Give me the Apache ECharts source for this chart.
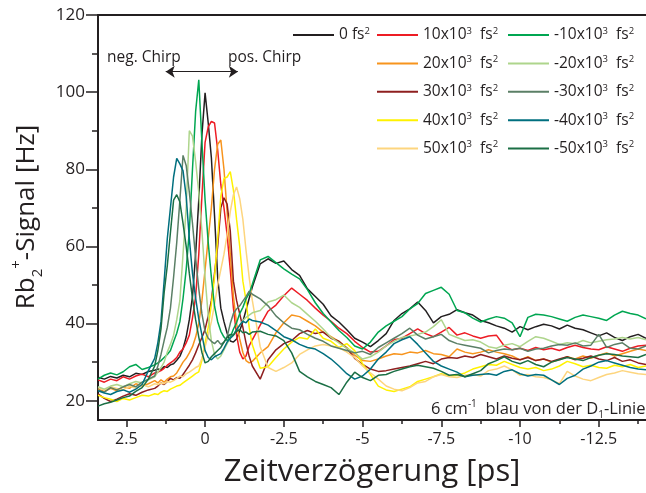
<!DOCTYPE html>
<html><head><meta charset="utf-8">
<script src="https://cdn.jsdelivr.net/npm/echarts@6/dist/echarts.min.js"></script>
<style>html,body{margin:0;padding:0;background:#fff}#c{width:646px;height:493px}</style>
</head><body><div id="c"></div>
<script>
// ---- data ----
const delays = [3.4,3.2,3.0,2.8,2.6,2.4,2.2,2.0,1.8,1.6,
 1.5,1.4,1.3,1.2,1.1,1.0,0.9,0.8,0.7,0.6,0.5,0.4,0.3,0.2,0.1,0,-0.1,-0.2,-0.3,-0.4,-0.5,-0.6,-0.7,-0.8,-0.9,-1.0,-1.1,-1.2,-1.3,-1.4,-1.5,
 -1.75,-2,-2.25,-2.5,-2.75,-3,-3.25,-3.5,-3.75,-4,-4.25,-4.5,-4.75,-5,-5.25,-5.5,-5.75,-6,-6.25,-6.5,-6.75,-7,-7.25,-7.5,-7.75,-8,-8.25,-8.5,-8.75,-9,-9.25,-9.5,-9.75,-10,-10.25,-10.5,-10.75,-11,-11.25,-11.5,-11.75,-12,-12.25,-12.5,-12.75,-13,-13.25,-13.5,-13.75,-14];

const chirp0 = [26.1,25.6,26.3,25.9,26.6,26.2,27.1,26.8,27.6,27.9,
 28.2,28.0,28.9,28.6,29.3,29.6,30.5,31.5,33.5,36.5,41,47,58,72,89,99.8,92,83,68,52,44,40.5,37.5,35.5,35.2,36,38.2,40.5,43.5,46.5,49.5,
 55.5,56.8,55.6,56.2,54,52.5,49,47,45,42,40.4,38.4,36.2,35.2,34,35.6,37.4,40.8,42.6,43.8,45.6,43.4,40.2,41.8,42.4,43.6,42.8,42.2,40.8,40.2,39.4,38.8,37.8,39.2,38.4,39.2,39.8,39.4,38.6,39.6,38.8,38.4,37.6,36.8,37.6,36.4,35.6,36.6,37.2,36.2];
const chirpP10 = [25.4,24.8,25.6,25.2,26.2,25.6,26.4,26.9,26.2,27.2,
 27.4,27.8,28.4,29.2,29.8,30.4,31.2,32.6,33.4,35,37,41.5,47,58,73,87,91,92.4,92,85,76,70,63,54,44,37,32.6,30.8,31.6,34.2,35.8,
 39.6,43.2,44.8,47.2,49.2,47.6,46,44,42.2,40.6,38.8,37.4,35.4,33.8,32.6,32.8,34.2,35.8,36.2,37.4,38.6,37.4,36.6,37.8,39,37,37.6,36.8,36.2,36.8,37,34.2,33.2,33.6,33,33.8,33.2,33.6,33,33.8,34.4,33.8,33.4,33.2,34,33.4,32.8,33.6,34.2,34.4];
const chirpP20 = [23,22.4,23.2,22.6,23.6,23.2,24.4,23.8,24.4,25.2,
 24.6,25.4,24.8,25.6,26.2,26.4,27.2,28.6,30,31,32.4,34,36.5,40,46,54,62,70,80,86.5,87.6,80,69,58,47,40,36,32.5,30.4,29.8,30.2,
 32.4,34,37.6,40.2,42.2,41.8,40.6,39.4,37.8,36.6,35.4,33.8,31.8,30.4,30.2,30.8,31.6,32.2,32,32.6,32.4,33,32.2,32,31.4,33.4,32.6,32.2,32.6,33.2,32.6,32.2,31.6,30.6,31.4,30.4,30.8,30,30.6,31.4,30.8,31.6,31,31.8,32.4,31.6,32.2,32.8,33.4,33];
const chirpP30 = [21.8,20.6,19.8,20.4,21.2,21.8,21.4,22.2,22.8,23.2,
 23.8,24.6,24.2,25,25.8,25.4,26,25.8,26.8,28,29.2,30.6,32.4,34.5,36.4,38.5,42,46,53,60,70,72.6,71,64,51,46,42.5,39,35,31.5,29,
 25.6,30.6,33.2,34.8,35.6,37.4,38.2,37.4,37.8,36.2,35.4,33.6,31,29.4,28.2,27.6,27.8,28.2,28.6,29,29.6,30.2,29.6,30.8,31.2,31,31.6,31.2,32,31.4,30.8,31.6,31,30.6,31.2,30.4,30.8,30.2,30.8,31.4,30.6,31,31.6,30.8,30.4,31.2,30.2,30.6,29.8,29.4];
const chirpP40 = [21.4,20.8,20.4,19.8,20.6,20.2,20.8,21.4,21.2,21.8,
 21.6,22.2,22.6,22.4,23,23.4,23.8,24,24.6,25.2,25.8,26.4,27,27.5,30.5,35,39,45,52,62,73,77.6,78,79.4,74.6,67,60,51,46,39,34.5,
 28.4,28.8,31.2,33.4,35.2,36.4,36,38.6,36.2,35.4,33.8,34.8,33,29.6,26.8,23.8,22.8,22.4,23,23.6,25,25.6,26.2,27,26.4,26.6,27.2,28.2,28.8,29.4,29.2,30.2,29.4,28.6,28.2,28.6,27.8,28.2,29,30.2,29.6,28.8,29.2,28.6,28.4,29.2,28.8,29.4,28.6,29];
const chirpP50 = [23.4,22.8,23.6,23.2,22.8,23.8,23.2,24.2,23.6,24.4,
 24.2,24.6,24.4,25,24.8,25.2,25.8,26.4,26.2,27,27.4,28,28.6,29,31,34,37,40.5,45,50,54,58,63,69,73.4,75.4,72.4,67,59,52,46,
 34,28.6,27.6,28.6,29.8,32,33.2,34.2,34.6,34.2,33.8,32.6,31.2,29,27.2,25.6,23.8,23,22.6,23.4,24.6,25,26.2,26.8,26.2,26,26.6,26.8,26.4,27.8,28.2,29,28,26.6,26.8,26.2,26,25.4,24.4,27.6,26.4,25.6,25.2,26,26.8,27.2,27.8,27.4,27,26.8];
const chirpM10 = [25.6,26.6,27.2,26.7,27.5,28.8,29.4,28.1,28.6,29.3,
 29.8,30.4,31.2,32,33,35.3,37.5,40.5,46.5,54,64,80,95,103.2,87,72,61,52,44.5,40.5,38,36.5,35.6,36.4,38.6,40.2,42.6,44.2,46.4,47.8,50.2,
 56.5,57.4,55.8,54.2,52.8,51.6,48.8,45.4,42.6,40.4,38.2,36.4,34.2,33.4,35.2,37.8,39.4,40.6,41.8,43.8,45.2,47.8,48.6,49.4,47.6,43.4,42.8,41.4,40.4,41.2,41.8,41.4,40.2,36.6,41.6,42.4,42.2,41.8,41.2,40.6,41.6,42.2,41.8,41.4,40.8,42.2,43.2,42.6,42.2,41.2];
const chirpM20 = [23.6,23,23.8,24.2,23.6,24.4,25,24.6,25.4,26.2,
 27.4,28.6,30,32.6,34.6,37,41,46,58,70,90,88.6,82,74,64,52,42,35.5,32,30.8,31.6,33.2,34.8,36.2,37,38.4,39.6,40.8,41.6,42.2,42.8,
 43.4,45.6,46.2,47.4,45.4,44.2,42.4,40.6,38.6,36.4,35,33.6,32.4,30.8,31.4,32.6,34.2,35.4,36.4,36.8,37.2,37.8,39.2,41,37.2,36.4,35.6,35.8,35.2,34,33.6,34.4,34.8,34,35.4,36.6,36.2,35.4,34.6,35,34.8,35.6,35,35.4,35.8,36,36.4,36,36.4,35.8];
const chirpM30 = [22.8,22.2,23.4,22.8,23.6,24.2,23.6,24.8,25.6,26.4,
 29,32,35.6,39,44,52,61,72,83.6,81,74,66,57,49,42.5,38,36.2,35.4,34.8,35.6,34.6,35.2,36.6,40,42.6,43.8,44.6,45.8,47,48.4,47.6,
 46.4,44.6,42,40.2,38.8,38.4,37.2,36.2,35.4,34.2,33.6,33,32.4,32.8,32,33.8,35,36.2,37.4,38.8,37,36,36.6,37.2,35.6,34.8,34.4,34,33.6,32.4,33,33.4,33.2,33.6,32.8,33.4,33.6,34.2,34.6,34.4,35,34.2,34.4,37.2,33.8,34.6,35,33.6,33.4,34.2];
const chirpM40 = [22.6,22,21.6,22.4,22.8,22.2,23,24.2,27.8,31,
 35,40.5,51,62,70,78,82.8,81.4,79.6,73,62,53,46.6,41.2,37,33,31.2,30.6,31.4,31.8,32.2,33.6,35.2,36.2,37,38.4,39.6,40.6,40.2,41.2,40.8,
 40.4,39.6,38.2,36.6,35.8,34.6,33.8,33.4,32.2,30.8,29,27,25.6,26.4,28.2,30.8,32.6,34.8,35.8,36.6,34.6,32.4,30.2,29,28.2,27.4,26.2,26.6,26.8,27,26.6,27.6,28,27,26.4,26.8,26.6,25.4,24.2,25.8,26.6,28.2,29,30,30.4,29.8,29.2,28.6,28.2,28];
const chirpM50 = [18.6,19.2,19.6,20.2,20.8,21.2,22.4,23.4,25.6,29,
 33,38.6,48,55,63.6,72,73.4,71.5,66,60,53,46.5,41,36.5,32.5,29.8,30.2,31.4,32.2,33,33.8,35.2,36.4,37.2,37,38,38.4,37.6,37.8,37.2,37.8,
 38,37.2,36.8,35.6,32.4,27.6,26.2,25,24.2,23.4,21.6,24.8,27.4,26,25.2,26.6,26.8,27.6,28.2,28.8,29.2,28.8,28.4,27.6,26.6,26.8,26.2,27,27.8,29.6,30.4,31.4,30.2,29.6,30.4,29.4,28.8,30,30.6,31.2,30.8,30.4,31.2,31.8,32.2,32,31.6,31.4,31.2,32];

const seriesNames = ['0','10','20','30','40','50','-10','-20','-30','-40','-50'];
const seriesValues = [chirp0,chirpP10,chirpP20,chirpP30,chirpP40,chirpP50,chirpM10,chirpM20,chirpM30,chirpM40,chirpM50];
const seriesColors = ['#231f20','#ed1c24','#f7941d','#8e1f1f','#fff200','#fdd57e','#00a651','#aed58c','#5b7f66','#006f7f','#1b6f45'];
const xMajorTicks = [2.5,0,-2.5,-5,-7.5,-10,-12.5];
const xMinorTicks = [1.25,-1.25,-3.75,-6.25,-8.75,-11.25,-13.75];
const yMajorTicks = [20,40,60,80,100,120];
const yMinorTicks = [30,50,70,90,110];
const chirpArrow = [1.25,-1.04,105.3];

// ---- chart ----
const FONT = '"Open Sans", sans-serif';
const INK = '#231f20';
const chart = echarts.init(document.getElementById('c'), null, {renderer:'canvas'});

function legendLabel(name){
  if (name === '0') return '{n|0 fs}{s|2}';
  return '{n|' + name + 'x10}{s|3}{n|  fs}{s|2}';
}
const legendText = {
  color: INK, fontFamily: FONT, fontSize: 15.5,
  rich: {
    n: {fontFamily: FONT, fontSize: 15.5, lineHeight: 18, color: INK},
    s: {fontFamily: FONT, fontSize: 9.5, lineHeight: 9, verticalAlign: 'top', color: INK}
  }
};
function mkLegend(data, left){
  return {data: data, left: left, top: 26, orient: 'vertical', padding: 0, itemGap: 11.4,
    icon: 'rect', itemWidth: 41, itemHeight: 2, selectedMode: false,
    formatter: legendLabel, textStyle: legendText};
}

const series = seriesNames.map((nm, i) => ({
  name: nm, type: 'line', symbol: 'none', showSymbol: false,
  data: delays.map((d, k) => [d, seriesValues[i][k]]),
  lineStyle: {width: 1.5, color: seriesColors[i]},
  itemStyle: {color: seriesColors[i]},
  z: 2
}));
series[0].markLine = {
  silent: true, symbol: ['arrow','arrow'], symbolSize: [9, 9], animation: false,
  label: {show: false},
  lineStyle: {color: INK, width: 1.2, type: 'solid'},
  data: [[{coord: [chirpArrow[0], chirpArrow[2]]}, {coord: [chirpArrow[1], chirpArrow[2]]}]]
};

const xBase = {type:'value', min:-14, max:3.4, inverse:true, splitLine:{show:false}};
const yBase = {type:'value', min:15, max:120, splitLine:{show:false}};

chart.setOption({
  animation: false,
  backgroundColor: '#fff',
  grid: {left: 98, right: 0, top: 15, bottom: 70.3, containLabel: false},
  legend: [mkLegend(['0'], 293), mkLegend(['10','20','30','40','50'], 377), mkLegend(['-10','-20','-30','-40','-50'], 508)],
  xAxis: [
    Object.assign({}, xBase, {
      position: 'bottom',
      axisLine: {show: true, onZero: false, lineStyle: {color: INK, width: 2}},
      axisTick: {show: true, length: 7, customValues: xMajorTicks, lineStyle: {color: INK, width: 1.5}},
      axisLabel: {customValues: xMajorTicks, margin: 11, color: INK, fontFamily: FONT, fontSize: 16},
      name: 'Zeitverzögerung [ps]', nameLocation: 'middle', nameGap: 37,
      nameTextStyle: {color: INK, fontFamily: FONT, fontSize: 31}
    }),
    Object.assign({}, xBase, {
      position: 'bottom',
      axisLine: {show: false, onZero: false},
      axisTick: {show: true, length: 4, customValues: xMinorTicks, lineStyle: {color: INK, width: 1.5}},
      axisLabel: {show: false}
    }),
    Object.assign({}, xBase, {
      position: 'top',
      axisLine: {show: true, onZero: false, lineStyle: {color: INK, width: 2}},
      axisTick: {show: false}, axisLabel: {show: false}
    })
  ],
  yAxis: [
    Object.assign({}, yBase, {
      position: 'left',
      axisLine: {show: true, onZero: false, lineStyle: {color: INK, width: 2}},
      axisTick: {show: true, length: 12, customValues: yMajorTicks, lineStyle: {color: INK, width: 1.5}},
      axisLabel: {customValues: yMajorTicks, margin: 13, color: INK, fontFamily: FONT, fontSize: 17},
      name: '{a|Rb}{sub|2}{sup|+}{a|-Signal [Hz]}', nameLocation: 'middle', nameGap: 46, nameRotate: 90,
      nameTextStyle: {color: INK, fontFamily: FONT, fontSize: 26, padding: [0, 0, 0, 1],
        rich: {
          a: {fontFamily: FONT, fontSize: 26, lineHeight: 36, color: INK},
          sub: {fontFamily: FONT, fontSize: 15, lineHeight: 15, verticalAlign: 'bottom', color: INK},
          sup: {fontFamily: FONT, fontSize: 15, lineHeight: 15, verticalAlign: 'top', color: INK}
        }}
    }),
    Object.assign({}, yBase, {
      position: 'left',
      axisLine: {show: false, onZero: false},
      axisTick: {show: true, length: 6, customValues: yMinorTicks, lineStyle: {color: INK, width: 1.5}},
      axisLabel: {show: false}
    })
  ],
  graphic: [
    {type: 'text', left: 107, top: 50, style: {text: 'neg. Chirp', fontFamily: FONT, fontSize: 15.5, fill: INK}},
    {type: 'text', left: 228, top: 50, style: {text: 'pos. Chirp', fontFamily: FONT, fontSize: 15.5, fill: INK}},
    {type: 'text', left: 431, top: 399, style: {
      text: '{m|6 cm}{sup|-1}{m|  blau von der D}{sub|1}{m|-Linie}',
      fontFamily: FONT, fontSize: 16.5, fill: INK,
      rich: {
        m: {fontFamily: FONT, fontSize: 16.5, lineHeight: 21, fill: INK},
        sup: {fontFamily: FONT, fontSize: 10, lineHeight: 10, verticalAlign: 'top', fill: INK},
        sub: {fontFamily: FONT, fontSize: 10, lineHeight: 10, verticalAlign: 'bottom', fill: INK}
      }}}
  ],
  series: series
});
</script>
</body></html>
